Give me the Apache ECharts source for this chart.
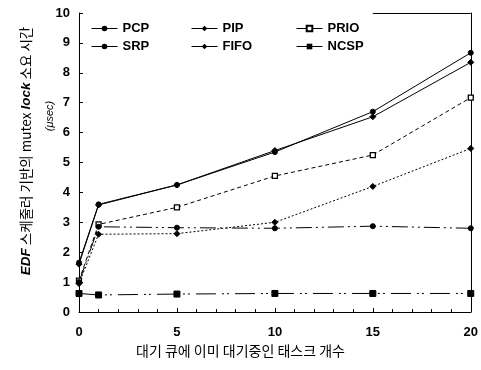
<!DOCTYPE html>
<html><head><meta charset="utf-8">
<script src="https://cdn.jsdelivr.net/npm/echarts@6/dist/echarts.min.js"></script>
<style>html,body{margin:0;padding:0;background:#fff}#c{width:481px;height:370px}</style>
</head><body><div id="c"></div>
<script>
const xs = [0, 1, 5, 10, 15, 20];
const pcp = [1.65, 3.6, 4.25, 5.35, 6.7, 8.67];
const pip = [1.6, 3.58, 4.25, 5.4, 6.53, 8.35];
const prio = [1.05, 2.93, 3.5, 4.55, 5.25, 7.17];
const srp = [1.0, 2.85, 2.82, 2.8, 2.87, 2.8];
const fifo = [0.95, 2.6, 2.62, 3.0, 4.2, 5.47];
const ncsp = [0.62, 0.57, 0.6, 0.62, 0.62, 0.62];
const names = ['PCP', 'PIP', 'PRIO', 'SRP', 'FIFO', 'NCSP'];
const xTitle = '대기 큐에 이미 대기중인 태스크 개수';

const zip = a => xs.map((x, i) => [x, a[i]]);
const F = 'Liberation Sans, Arial, sans-serif';
const chart = echarts.init(document.getElementById('c'));
function ser(name, arr, symbol, size, lineType, width, extra) {
  return Object.assign({
    name, type: 'line', data: zip(arr), symbol, symbolSize: size,
    showAllSymbol: true,
    lineStyle: { color: '#000', width: width, type: lineType },
    itemStyle: { color: '#000', borderColor: '#000' },
    emphasis: { disabled: true }, animation: false
  }, extra || {});
}
const legendCommon = {
  orient: 'vertical', top: 17, itemGap: 5, itemWidth: 26, itemHeight: 7,
  textStyle: { fontFamily: F, fontSize: 13, color: '#000', fontWeight: 'bold' },
  lineStyle: { type: 'solid', width: 1 }
};
chart.setOption({
  backgroundColor: '#fff',
  grid: { left: 79, right: 7, top: 13, bottom: 58 },
  legend: [
    Object.assign({ left: 86, data: ['PCP', 'SRP'] }, legendCommon),
    Object.assign({ left: 186, data: ['PIP', 'FIFO'] }, legendCommon),
    Object.assign({ left: 291, data: ['PRIO', 'NCSP'] }, legendCommon)
  ],
  xAxis: {
    type: 'value', min: 0, max: 20, interval: 5,
    axisLine: { lineStyle: { color: '#000', width: 1 } },
    axisTick: { inside: true, length: 4, lineStyle: { color: '#000' } },
    minorTick: { show: true, splitNumber: 5, length: 3, lineStyle: { color: '#000' } },
    splitLine: { show: false },
    axisLabel: { color: '#000', fontFamily: F, fontSize: 13, fontWeight: 'bold', margin: 14 }
  },
  yAxis: [{
    type: 'value', min: 0, max: 10, interval: 1,
    axisLine: { show: true, lineStyle: { color: '#000', width: 1 } },
    axisTick: { show: true, inside: true, length: 4, lineStyle: { color: '#000' } },
    splitLine: { show: false },
    axisLabel: { color: '#000', fontFamily: F, fontSize: 13, fontWeight: 'bold', margin: 9 }
  }, {
    type: 'value', min: 0, max: 10, interval: 1, position: 'right',
    axisLine: { show: true, lineStyle: { color: '#000', width: 1 } },
    axisTick: { show: false }, axisLabel: { show: false }, splitLine: { show: false }
  }],
  series: [
    ser('PCP', pcp, 'circle', 5, 'solid', 1, {
      markLine: { silent: true, symbol: 'none', label: { show: false },
        lineStyle: { color: '#000', type: 'solid', width: 1 },
        data: [[{ coord: [15, 10] }, { coord: [20, 10] }]] }
    }),
    ser('PIP', pip, 'diamond', 6, 'solid', 1),
    ser('PRIO', prio, 'rect', 5, [4, 3], 1, { itemStyle: { color: '#fff', borderColor: '#000', borderWidth: 1.3 } }),
    ser('SRP', srp, 'circle', 5, [16, 4, 2, 4, 2, 4], 1),
    ser('FIFO', fifo, 'diamond', 6, [2, 2], 1),
    ser('NCSP', ncsp, 'rect', 6, [20, 6, 2, 3, 2, 6], 1)
  ],
  graphic: [
    { type: 'text', left: 'center', top: 344,
      style: { text: xTitle, font: '14px "Noto Sans CJK KR", sans-serif', fill: '#000' } },
    { type: 'text', x: 26, y: 151, rotation: Math.PI / 2,
      style: {
        text: '{b|EDF} 스케줄러 기반의 mutex {b|lock} 소요 시간',
        font: '13.5px "Noto Sans CJK KR", sans-serif', fill: '#000',
        align: 'center', verticalAlign: 'middle',
        rich: { b: { fontStyle: 'italic', fontWeight: 'bold', fontSize: 13.5, fontFamily: F } }
      } },
    { type: 'text', x: 50, y: 116, rotation: Math.PI / 2,
      style: { text: '(μsec)', font: 'italic 11px ' + F, fill: '#000', align: 'center', verticalAlign: 'middle' } }
  ]
});
</script></body></html>
